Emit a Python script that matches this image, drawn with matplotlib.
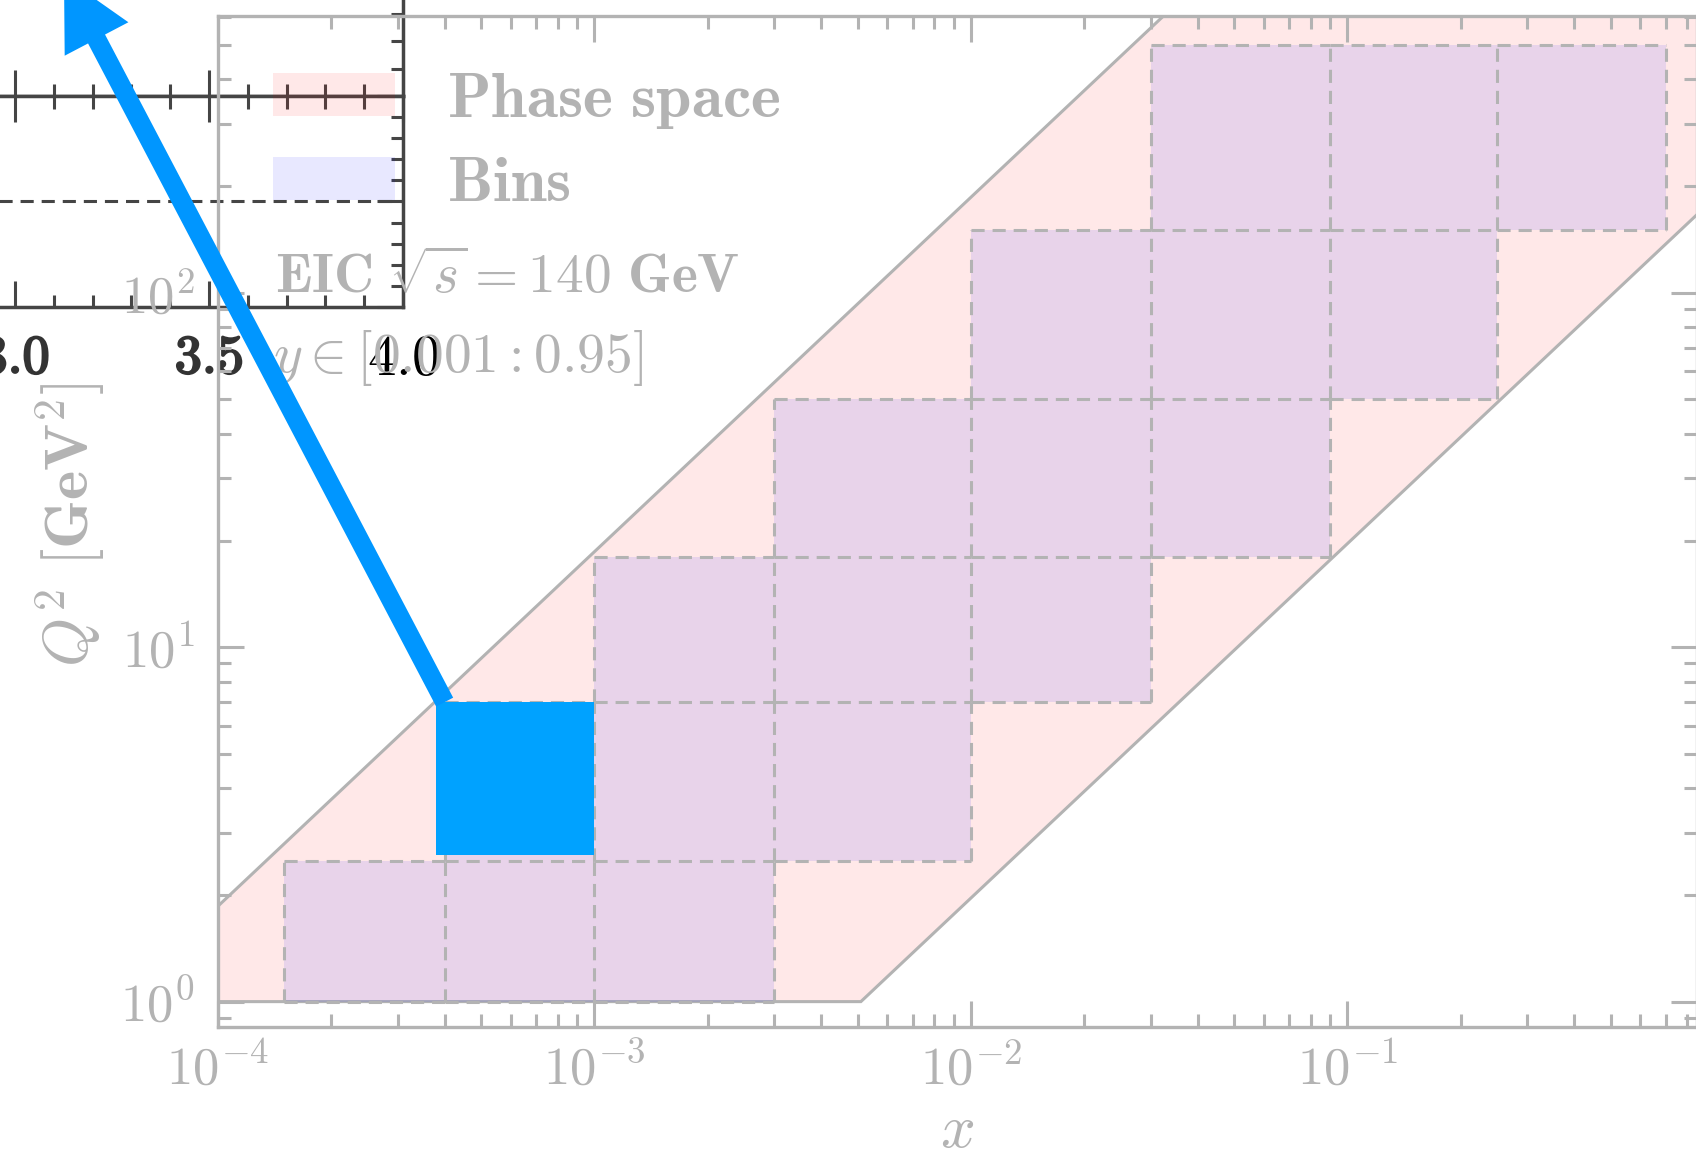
import numpy as np
import matplotlib
matplotlib.use("Agg")
import matplotlib.pyplot as plt
import matplotlib.patheffects as pe
from matplotlib.patches import Patch, Rectangle
from matplotlib.ticker import LogLocator, NullFormatter, FuncFormatter, MultipleLocator

plt.rcParams["mathtext.fontset"] = "cm"

# --- Data ---
# phase space corners in (x, Q^2)
ps_x = [1e-4, 1e-4, 1.0, 1.0, 5.1e-3]
ps_q2 = [1.0, 1.86, 18620.0, 196.0, 1.0]

# bin grid: every Q^2 row holds 3 x-bins, shifted one bin per row
x_edges = [1.5e-4, 4e-4, 1e-3, 3e-3, 1e-2, 3e-2, 9e-2, 0.25, 0.7]
q2_edges = [1, 2.5, 7, 18, 50, 150, 500]
row_first_xbin = [0, 1, 2, 3, 4, 5]
bins_per_row = 3

# highlighted bin and the arrow that leaves from its corner
hl_x = [3.8e-4, 1e-3]
hl_q2 = [2.6, 7.0]
arrow_from = (4e-4, 7.0)

legend_labels = ["Phase space", "Bins"]

# piece of the other figure peeking in at the top left
ov_xticks = [3.0, 3.5, 4.0]
ov_xlabels = ["3.0", "3.5", "4.0"]
ov_ref = 1.0

# --- Styles ---
W, H = 1696, 1162
gray = "#b3b3b3"
dark = "#454545"
pink = (1.0, 0.0, 0.0, 0.09)
lav = (0.0, 0.0, 1.0, 0.09)
hl_blue = "#00a2ff"
arrow_blue = "#0096ff"
dash = (0, (4.3, 2.6))


def px_rect(x0, y0, x1, y1):
    # pixel box (top-left origin) -> figure fraction rect
    return [x0 / W, 1 - y1 / H, (x1 - x0) / W, (y1 - y0) / H]


fig = plt.figure(figsize=(W / 100, H / 100), dpi=100)

# --- Overlay panels (drawn first, below the main plot) ---
ax_up = fig.add_axes(px_rect(-62.6, -300, 403, 96))
ax_lo = fig.add_axes(px_rect(-62.6, 96, 403, 307))
for a in (ax_up, ax_lo):
    a.set_xlim(2.8, 4.0)
    a.xaxis.set_minor_locator(MultipleLocator(0.1))
    a.tick_params(which="both", direction="in", top=True, right=True,
                  color=dark, width=2.2, labelleft=False)
    a.tick_params(which="major", length=18.7)
    a.tick_params(which="minor", length=9)
    for s in a.spines.values():
        s.set_color(dark)
        s.set_linewidth(2.5)

ax_up.set_ylim(0, 14.4)
ax_up.yaxis.set_major_locator(MultipleLocator(5))
ax_up.yaxis.set_minor_locator(MultipleLocator(1))
ax_up.xaxis.set_major_locator(MultipleLocator(0.5))
ax_up.tick_params(labelbottom=False)

ax_lo.set_ylim(0.5, 1.5)
ax_lo.yaxis.set_major_locator(MultipleLocator(0.5))
ax_lo.yaxis.set_minor_locator(MultipleLocator(0.1))
ax_lo.axhline(ov_ref, color=dark, lw=2.2, ls=dash)
ax_lo.set_xticks(ov_xticks, [r"$\mathbf{%s}$" % s for s in ov_xlabels[:-1]]
                 + [r"$\mathrm{%s}$" % ov_xlabels[-1]])
ax_lo.tick_params(axis="x", pad=18, labelsize=39, labelcolor="#333333")
ov_ticks = ax_lo.xaxis.get_major_ticks()
for t in ov_ticks[:-1]:
    t.label1.set_path_effects([pe.withStroke(linewidth=1.6, foreground="#333333")])
ov_ticks[-1].label1.set_fontsize(41)
ov_ticks[-1].label1.set_color("black")

# --- Main plot ---
ax = fig.add_axes(px_rect(218, 16, 1697, 1027))
ax.set_facecolor("none")
ax.set_xscale("log")
ax.set_yscale("log")
ax.set_xlim(1e-4, 0.848)
ax.set_ylim(0.848, 604)

ax.fill(ps_x, ps_q2, facecolor=pink, edgecolor=gray, lw=2.2, zorder=1)

edges = set()
for i, start in enumerate(row_first_xbin):
    for j in range(start, start + bins_per_row):
        x0, x1 = x_edges[j], x_edges[j + 1]
        y0, y1 = q2_edges[i], q2_edges[i + 1]
        ax.add_patch(Rectangle((x0, y0), x1 - x0, y1 - y0, facecolor=lav,
                               edgecolor="none", zorder=2))
        edges.update([(x0, y0, x1, y0), (x0, y1, x1, y1),
                      (x0, y0, x0, y1), (x1, y0, x1, y1)])
for x0, y0, x1, y1 in sorted(edges):
    ax.plot([x0, x1], [y0, y1], color=gray, lw=2.2, ls=dash, zorder=3)

ax.add_patch(Rectangle((hl_x[0], hl_q2[0]), hl_x[1] - hl_x[0], hl_q2[1] - hl_q2[0],
                       facecolor=hl_blue, edgecolor="none", zorder=4))

# axes look
for s in ax.spines.values():
    s.set_color(gray)
    s.set_linewidth(2.4)
for axis in (ax.xaxis, ax.yaxis):
    axis.set_minor_locator(LogLocator(base=10, subs=np.arange(2, 10), numticks=100))
    axis.set_minor_formatter(NullFormatter())
    axis.set_major_formatter(FuncFormatter(lambda v, p: r"$\mathbf{10^{%d}}$" % round(np.log10(v))))
ax.tick_params(which="both", direction="in", top=True, right=True,
               color=gray, width=2.2, labelcolor=gray, labelsize=38)
ax.tick_params(which="major", length=18.7)
ax.tick_params(which="minor", length=9.4)
ax.tick_params(axis="x", pad=12)
ax.tick_params(axis="y", pad=17)

ax.set_xlabel(r"$x$", fontsize=44, color=gray)
ax.set_ylabel(r"$Q^2\ [\mathbf{GeV}^2]$", fontsize=45, color=gray)
ax.xaxis.set_label_coords(0.5, -0.073)
ax.yaxis.set_label_coords(-0.0744, 0.497)

fs_leg = 46
px_leg = fs_leg * 100 / 72
handles = [Patch(facecolor=pink, edgecolor="none"), Patch(facecolor=lav, edgecolor="none")]
ax.legend(handles, [r"$\mathbf{%s}$" % s.replace(" ", r"\ ") for s in legend_labels],
          loc="upper left", bbox_to_anchor=((272.5 - 218) / 1479, (1027 - 68) / 1011),
          frameon=False, fontsize=fs_leg, handlelength=122.5 / px_leg,
          handleheight=43 / px_leg, handletextpad=52 / px_leg, borderpad=0,
          borderaxespad=0, labelspacing=0.33, labelcolor=gray)

ax.text(0.0383, 0.726, r"$\mathbf{EIC}\ \sqrt{s} = \mathbf{140\ GeV}$",
        transform=ax.transAxes, fontsize=40, color=gray, va="baseline")
ax.text(0.0372, 0.648, r"$y \in [\mathbf{0.001 : 0.95}]$",
        transform=ax.transAxes, fontsize=40, color=gray, va="baseline")

# arrow from the highlighted bin to the panel off the top left
ax.annotate("", xy=(64, H + 23), xycoords="figure pixels",
            xytext=arrow_from, textcoords="data", annotation_clip=False, zorder=10,
            arrowprops=dict(facecolor=arrow_blue, edgecolor="none", width=13.8,
                            headwidth=51.8, headlength=50.4, shrink=0))

fig.savefig("out.png", dpi=100)
